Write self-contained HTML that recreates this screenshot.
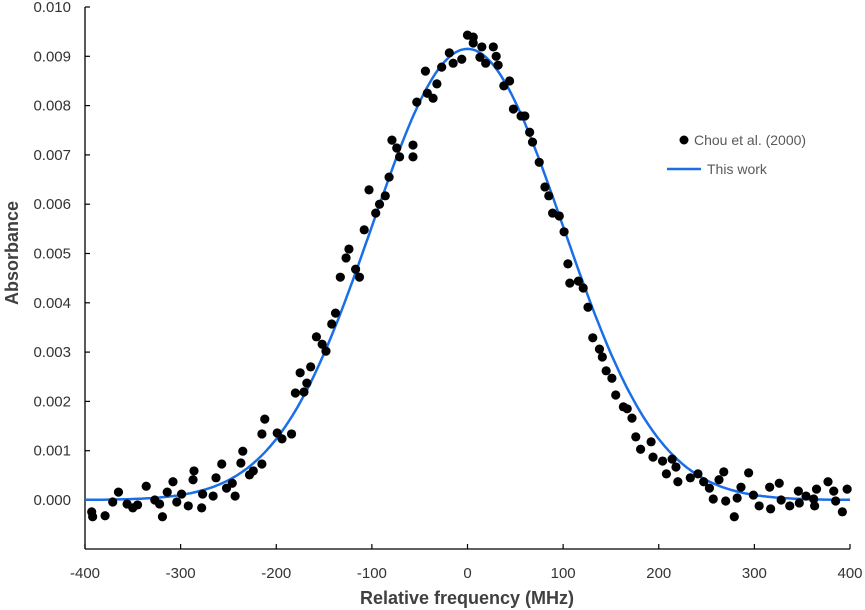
<!DOCTYPE html>
<html><head><meta charset="utf-8"><style>
body{margin:0;background:#fff}
svg{display:block;font-family:"Liberation Sans",Arial,sans-serif}
</style></head><body>
<svg id="chart" width="865" height="610" xmlns="http://www.w3.org/2000/svg">
<g id="axes"></g>
<g id="curve"></g>
<g id="dots"></g>
<text x="467" y="604" text-anchor="middle" font-size="18" font-weight="bold" fill="#404040">Relative frequency (MHz)</text>
<text transform="translate(18,253) rotate(-90)" text-anchor="middle" font-size="18" font-weight="bold" fill="#404040">Absorbance</text>
<g>
<circle cx="684" cy="140" r="4.5" fill="#000"/>
<text x="694" y="145" font-size="14" fill="#595959">Chou et al. (2000)</text>
<line x1="667" y1="169" x2="701" y2="169" stroke="#1a6fe8" stroke-width="2.5"/>
<text x="707" y="174" font-size="14" fill="#595959">This work</text>
</g>
</svg>
<script>
const xTicks=[-400,-300,-200,-100,0,100,200,300,400];
const yTicks=[0,0.001,0.002,0.003,0.004,0.005,0.006,0.007,0.008,0.009,0.010];
const dataX=[-393,-392,-379,-371,-365,-356,-350,-345,-336,-327,-322,-319,-314,-308,-304,-299,-292,-287,-286,-277,-278,-266,-263,-257,-252,-246,-243,-237,-235,-228,-224,-215,-215,-212,-199,-194,-184,-180,-171,-168,-175,-164,-158,-152,-148,-142,-138,-133,-127,-124,-117,-113,-108,-103,-96,-92,-86,-82,-79,-74,-71,-57,-57,-53,-44,-42,-36,-32,-27,-19,-15,-6,0,6,6,13,15,19,27,30,32,38,44,48,56,60,65,68,75,81,85,89,96,101,105,107,116,121,126,131,138,141,145,151,155,163,167,172,176,181,192,194,204,208,214,218,220,233,241,247,253,257,263,268,270,279,282,286,294,299,305,316,317,326,328,337,346,347,354,362,363,365,377,383,385,392,397];
const dataY=[-0.00024,-0.00034,-0.00032,-0.00004,0.00016,-0.00008,-0.00016,-0.0001,0.00028,0,-0.00008,-0.00034,0.00016,0.00037,-0.00004,0.00012,-0.00012,0.00041,0.00059,0.00012,-0.00016,0.00008,0.00045,0.00073,0.00024,0.00034,0.00008,0.00075,0.00099,0.00051,0.00059,0.00073,0.00134,0.00164,0.00136,0.00124,0.00134,0.00217,0.00219,0.00237,0.00258,0.0027,0.00331,0.00316,0.00302,0.00357,0.00379,0.00452,0.00491,0.00509,0.00468,0.00452,0.00548,0.00629,0.00582,0.006,0.00617,0.00655,0.0073,0.00714,0.00696,0.0072,0.00696,0.00807,0.0087,0.00825,0.00815,0.00844,0.00878,0.00907,0.00886,0.00894,0.00943,0.00939,0.00927,0.00898,0.00919,0.00886,0.00919,0.009,0.00882,0.0084,0.0085,0.00793,0.00779,0.00779,0.00746,0.00726,0.00685,0.00635,0.00617,0.00582,0.00576,0.00544,0.00479,0.0044,0.00444,0.0043,0.00391,0.00329,0.00306,0.0029,0.00262,0.00247,0.00213,0.00189,0.00185,0.00166,0.00128,0.00103,0.00118,0.00087,0.00079,0.00053,0.00083,0.00067,0.00037,0.00045,0.00053,0.00037,0.00024,0.00002,0.00041,0.00057,-0.00002,-0.00034,0.00004,0.00026,0.00055,0.0001,-0.00012,0.00026,-0.00018,0.00034,0,-0.00012,0.00018,-0.00006,0.00008,0.00002,-0.00012,0.00022,0.00037,0.00018,-0.00002,-0.00024,0.00022];
const fitPeak=0.00915, fitCenter=0, fitSigma=100;
const NS="http://www.w3.org/2000/svg";
const L=85,R=850,T=7,B=500,AXB=549;
const sx=v=>L+(v+400)/800*(R-L);
const sy=v=>B-v/0.010*(B-T);
function mk(tag,attrs,parent){const e=document.createElementNS(NS,tag);for(const k in attrs)e.setAttribute(k,attrs[k]);parent.appendChild(e);return e;}
const ax=document.getElementById('axes');
let e=mk('line',{x1:L,y1:T,x2:L,y2:AXB,stroke:'#000','stroke-width':1.3},ax);


e=mk('line',{x1:L,y1:AXB,x2:R,y2:AXB,stroke:'#000','stroke-width':1.3},ax);


yTicks.forEach(v=>{
  const y=sy(v);
  let t=mk('line',{x1:L,y1:y,x2:L+5,y2:y,stroke:'#000','stroke-width':1.2},ax);
  
  
  let s=mk('text',{x:L-14,y:y+5,'text-anchor':'end','font-size':15,fill:'#333'},ax);
  s.textContent=v.toFixed(3);
  
  
});
xTicks.forEach(v=>{
  const x=sx(v);
  let t=mk('line',{x1:x,y1:AXB-5,x2:x,y2:AXB,stroke:'#000','stroke-width':1.2},ax);
  
  
  let s=mk('text',{x:x,y:AXB+29,'text-anchor':'middle','font-size':15,fill:'#333'},ax);
  s.textContent=String(v);
  
  
});
let d='';
for(let f=-400;f<=400;f+=2){const y=fitPeak*Math.exp(-((f-fitCenter)**2)/(2*fitSigma*fitSigma));d+=(f===-400?'M':'L')+sx(f).toFixed(1)+','+sy(y).toFixed(1);}
const p=mk('path',{d:d,fill:'none',stroke:'#1a6fe8','stroke-width':2.5},document.getElementById('curve'));


const dg=document.getElementById('dots');
dataX.forEach((x,i)=>{
  const c=mk('circle',{cx:sx(x),cy:sy(dataY[i]),r:4.6,fill:'#000'},dg);
  
  
});
</script>
</body></html>
